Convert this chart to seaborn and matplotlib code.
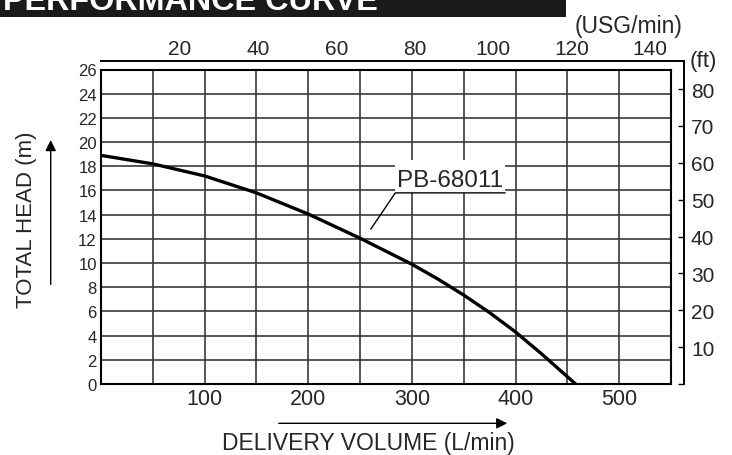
import numpy as np
import pandas as pd
import matplotlib
matplotlib.use("Agg")
import matplotlib.pyplot as plt
import seaborn as sns
from matplotlib.patches import Rectangle, FancyArrowPatch

# pump curve
flow_lpm = [0, 50, 100, 150, 200, 250, 300, 325, 350, 375, 400, 425, 450, 458]
head_m = [18.9, 18.2, 17.2, 15.8, 14.05, 12.05, 9.9, 8.68, 7.35, 5.9, 4.3, 2.5, 0.6, 0.0]
model_name = "PB-68011"

x_grid = list(range(0, 551, 50))
x_labels = [100, 200, 300, 400, 500]
y_grid = list(range(0, 27, 2))
usg_ticks = [20, 40, 60, 80, 100, 120, 140]
ft_ticks = [0, 10, 20, 30, 40, 50, 60, 70, 80]

L_PER_USG = 3.785
FT_PER_M = 3.2808

df = pd.DataFrame({"flow": flow_lpm, "head": head_m})

sns.set_theme(style="white")
plt.rcParams["font.family"] = ["Liberation Sans", "DejaVu Sans"]

W, H = 732, 456
fig = plt.figure(figsize=(W / 100, H / 100), dpi=100)

# geometry in pixels (from top-left)
left, right_in, right_out = 101, 671, 684
top_in, top_out, bottom = 70.5, 62, 385

def fx(px):
    return px / W

def fy(py):
    return (H - py) / H

ax = fig.add_axes([fx(left), fy(bottom), fx(right_in) - fx(left), fy(top_in) - fy(bottom)])
ax2 = fig.add_axes([fx(left), fy(bottom), fx(right_out) - fx(left), fy(top_out) - fy(bottom)])
ax2.patch.set_alpha(0)

# main curve
sns.lineplot(data=df, x="flow", y="head", ax=ax, color="black", lw=2.4, zorder=4)

ax.set_xlim(0, 550)
ax.set_ylim(0, 26)
ax.set_xticks(x_grid)
ax.set_xticklabels([str(v) if v in x_labels else "" for v in x_grid], fontsize=15.5)
ax.set_yticks(y_grid)
ax.set_yticklabels([str(v) for v in y_grid], fontsize=12)
ax.tick_params(axis="both", length=0)
ax.tick_params(axis="x", pad=3)
ax.tick_params(axis="y", pad=3)
ax.grid(True, color="#3a3a3a", lw=1.2)
ax.set_xlabel("")
ax.set_ylabel("")
for s in ax.spines.values():
    s.set_color("black")
    s.set_linewidth(1.5)

# secondary scales (USG/min on top, ft on right)
px_per_l = (right_in - left) / 550
px_per_m = (bottom - top_in) / 26
ax2.set_xlim(0, (right_out - left) / px_per_l / L_PER_USG)
ax2.set_ylim(0, (bottom - top_out) / px_per_m * FT_PER_M)
ax2.spines["left"].set_visible(False)
ax2.spines["bottom"].set_visible(False)
for side in ["top", "right"]:
    ax2.spines[side].set_color("black")
    ax2.spines[side].set_linewidth(1.4)
ax2.xaxis.tick_top()
ax2.set_xticks(usg_ticks)
ax2.set_xticklabels([str(v) for v in usg_ticks], fontsize=15)
ax2.tick_params(axis="x", length=0, pad=2)
ax2.yaxis.tick_right()
ax2.set_yticks(ft_ticks)
ax2.set_yticklabels([str(v) if v else "" for v in ft_ticks], fontsize=15)
ax2.tick_params(axis="y", direction="in", length=4, width=1, color="black", pad=5)
ax2.grid(False)

fig.text(fx(629), fy(26), "(USG/min)", fontsize=16.5, ha="center", va="center")
fig.text(fx(703), fy(62), "(ft)", fontsize=16, ha="center", va="center")

# model label
ax.add_patch(Rectangle((284, 15.8), 106, 2.75, facecolor="white", edgecolor="none", zorder=3))
ax.text(337, 16.9, model_name, fontsize=17.5, ha="center", va="center", zorder=5)
ax.plot([390, 284, 260.3], [15.8, 15.8, 12.8], color="black", lw=1, zorder=5)

# axis titles with arrows
fig.text(fx(26.3), fy(220), "TOTAL HEAD (m)", fontsize=16, rotation=90, ha="center", va="center")
fig.text(fx(368), fy(443.6), "DELIVERY VOLUME (L/min)", fontsize=16.5, ha="center", va="center")
fig.add_artist(FancyArrowPatch(
    (fx(50.7), fy(288.3)), (fx(50.7), fy(138.3)), transform=fig.transFigure,
    arrowstyle="-|>", mutation_scale=16, color="black", lw=1))
fig.add_artist(FancyArrowPatch(
    (fx(276), fy(424.3)), (fx(510), fy(424.3)), transform=fig.transFigure,
    arrowstyle="-|>", mutation_scale=16, color="black", lw=1))

# title banner (cut at the top edge, as in the source)
fig.add_artist(Rectangle((0, fy(18.3)), fx(566), 1 - fy(18.3), transform=fig.transFigure,
                         facecolor="#1a1a1a", edgecolor="none"))
fig.text(fx(3), fy(10), "PERFORMANCE CURVE", fontsize=23.3, fontweight="bold",
         color="white", ha="left", va="baseline")

fig.savefig("out.png", dpi=100, facecolor="white")
